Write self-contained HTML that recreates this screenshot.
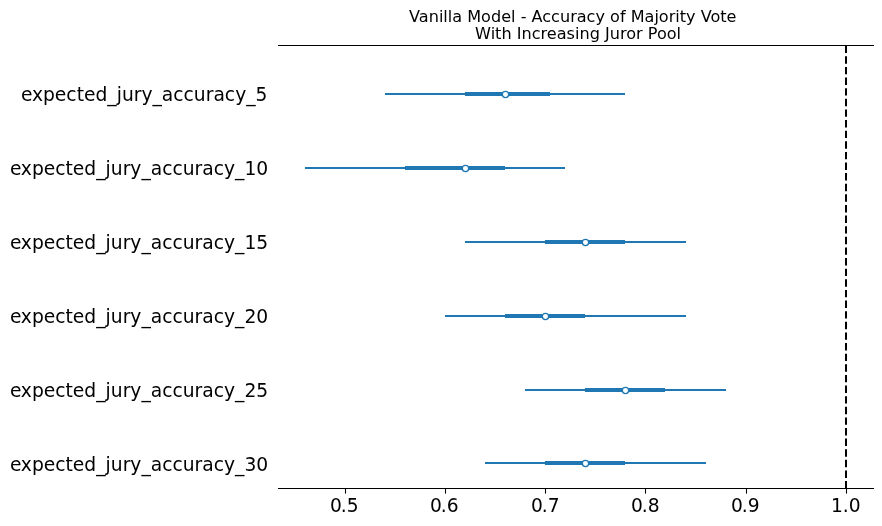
<!DOCTYPE html>
<html lang="en">
<head>
<meta charset="utf-8">
<title>Vanilla Model - Accuracy of Majority Vote With Increasing Juror Pool</title>
<style>
html,body{margin:0;padding:0;background:#fff;}
body{width:882px;height:526px;overflow:hidden;}
svg{display:block;will-change:transform;}
text{font-family:"DejaVu Sans","Liberation Sans",sans-serif;fill:#000;}
.lbl{font-size:18.7px;}
.ttl{font-size:16.1px;}
.tck{font-size:18.67px;}
</style>
</head>
<body>
<svg width="882" height="526" viewBox="0 0 882 526">
<rect x="0" y="0" width="882" height="526" fill="#ffffff"/>

<g class="ttl">
<text font-size="16.08px" x="409.1" y="22">Vanilla Model - Accuracy of Majority Vote</text>
<text x="475.1" y="39">With Increasing Juror Pool</text>
</g>
<g stroke="#1f77b4" fill="none">
<line x1="385" y1="94" x2="625" y2="94" stroke-width="2"/>
<line x1="465" y1="94" x2="550" y2="94" stroke-width="4"/>
<line x1="305" y1="168" x2="565" y2="168" stroke-width="2"/>
<line x1="405" y1="168" x2="505" y2="168" stroke-width="4"/>
<line x1="465" y1="242" x2="686" y2="242" stroke-width="2"/>
<line x1="545" y1="242" x2="625" y2="242" stroke-width="4"/>
<line x1="445" y1="316" x2="686" y2="316" stroke-width="2"/>
<line x1="505" y1="316" x2="585" y2="316" stroke-width="4"/>
<line x1="525" y1="390" x2="726" y2="390" stroke-width="2"/>
<line x1="585" y1="390" x2="665" y2="390" stroke-width="4"/>
<line x1="485" y1="463" x2="706" y2="463" stroke-width="2"/>
<line x1="545" y1="463" x2="625" y2="463" stroke-width="4"/>
</g>
<g stroke="#1f77b4" stroke-width="1.33" fill="#ffffff">
<circle cx="505.5" cy="94.5" r="3.15"/>
<circle cx="465.5" cy="168.5" r="3.15"/>
<circle cx="585.5" cy="242.5" r="3.15"/>
<circle cx="545.5" cy="316.5" r="3.15"/>
<circle cx="625.5" cy="390.5" r="3.15"/>
<circle cx="585.5" cy="463.5" r="3.15"/>
</g>
<line x1="846" y1="488.50" x2="846" y2="45.50" stroke="#000" stroke-width="2" stroke-dasharray="7.4 3.22"/>
<g stroke="#000" stroke-width="1.07">
<line x1="278.00" y1="45.50" x2="874.00" y2="45.50"/>
<line x1="278.00" y1="488.50" x2="874.00" y2="488.50"/>
<line x1="345.5" y1="488.50" x2="345.5" y2="493.60"/>
<line x1="445.5" y1="488.50" x2="445.5" y2="493.60"/>
<line x1="545.5" y1="488.50" x2="545.5" y2="493.60"/>
<line x1="645.5" y1="488.50" x2="645.5" y2="493.60"/>
<line x1="746.5" y1="488.50" x2="746.5" y2="493.60"/>
<line x1="846.5" y1="488.50" x2="846.5" y2="493.60"/>
</g>
<g class="tck">
<text x="330.1" y="512" dx="0 -1.25">0.5</text>
<text x="430.1" y="512" dx="0 -1.25">0.6</text>
<text x="531.1" y="512" dx="0 -1.25">0.7</text>
<text x="631.1" y="512" dx="0 -1.25">0.8</text>
<text x="731.1" y="512" dx="0 -1.25">0.9</text>
<text x="830.9" y="512">1.0</text>
</g>
<g class="lbl">
<text x="21" y="101" dx="0 -0.25" dy="0 0 0 0 0 0 0 0 1 -1 0 0 0 1 -1 0 0 0 0 0 0 0 1 -1">expected_jury_accuracy_5</text>
<text x="9.9" y="175" dx="0 -0.25" dy="0 0 0 0 0 0 0 0 1 -1 0 0 0 1 -1 0 0 0 0 0 0 0 1 -1 0">expected_jury_accuracy_10</text>
<text x="9.9" y="249" dx="0 -0.25" dy="0 0 0 0 0 0 0 0 1 -1 0 0 0 1 -1 0 0 0 0 0 0 0 1 -1 0">expected_jury_accuracy_15</text>
<text x="9.9" y="323" dx="0 -0.25" dy="0 0 0 0 0 0 0 0 1 -1 0 0 0 1 -1 0 0 0 0 0 0 0 1 -1 0">expected_jury_accuracy_20</text>
<text x="9.9" y="397" dx="0 -0.25" dy="0 0 0 0 0 0 0 0 1 -1 0 0 0 1 -1 0 0 0 0 0 0 0 1 -1 0">expected_jury_accuracy_25</text>
<text x="9.9" y="471" dx="0 -0.25" dy="0 0 0 0 0 0 0 0 1 -1 0 0 0 1 -1 0 0 0 0 0 0 0 1 -1 0">expected_jury_accuracy_30</text>
</g>
</svg>
</body>
</html>
